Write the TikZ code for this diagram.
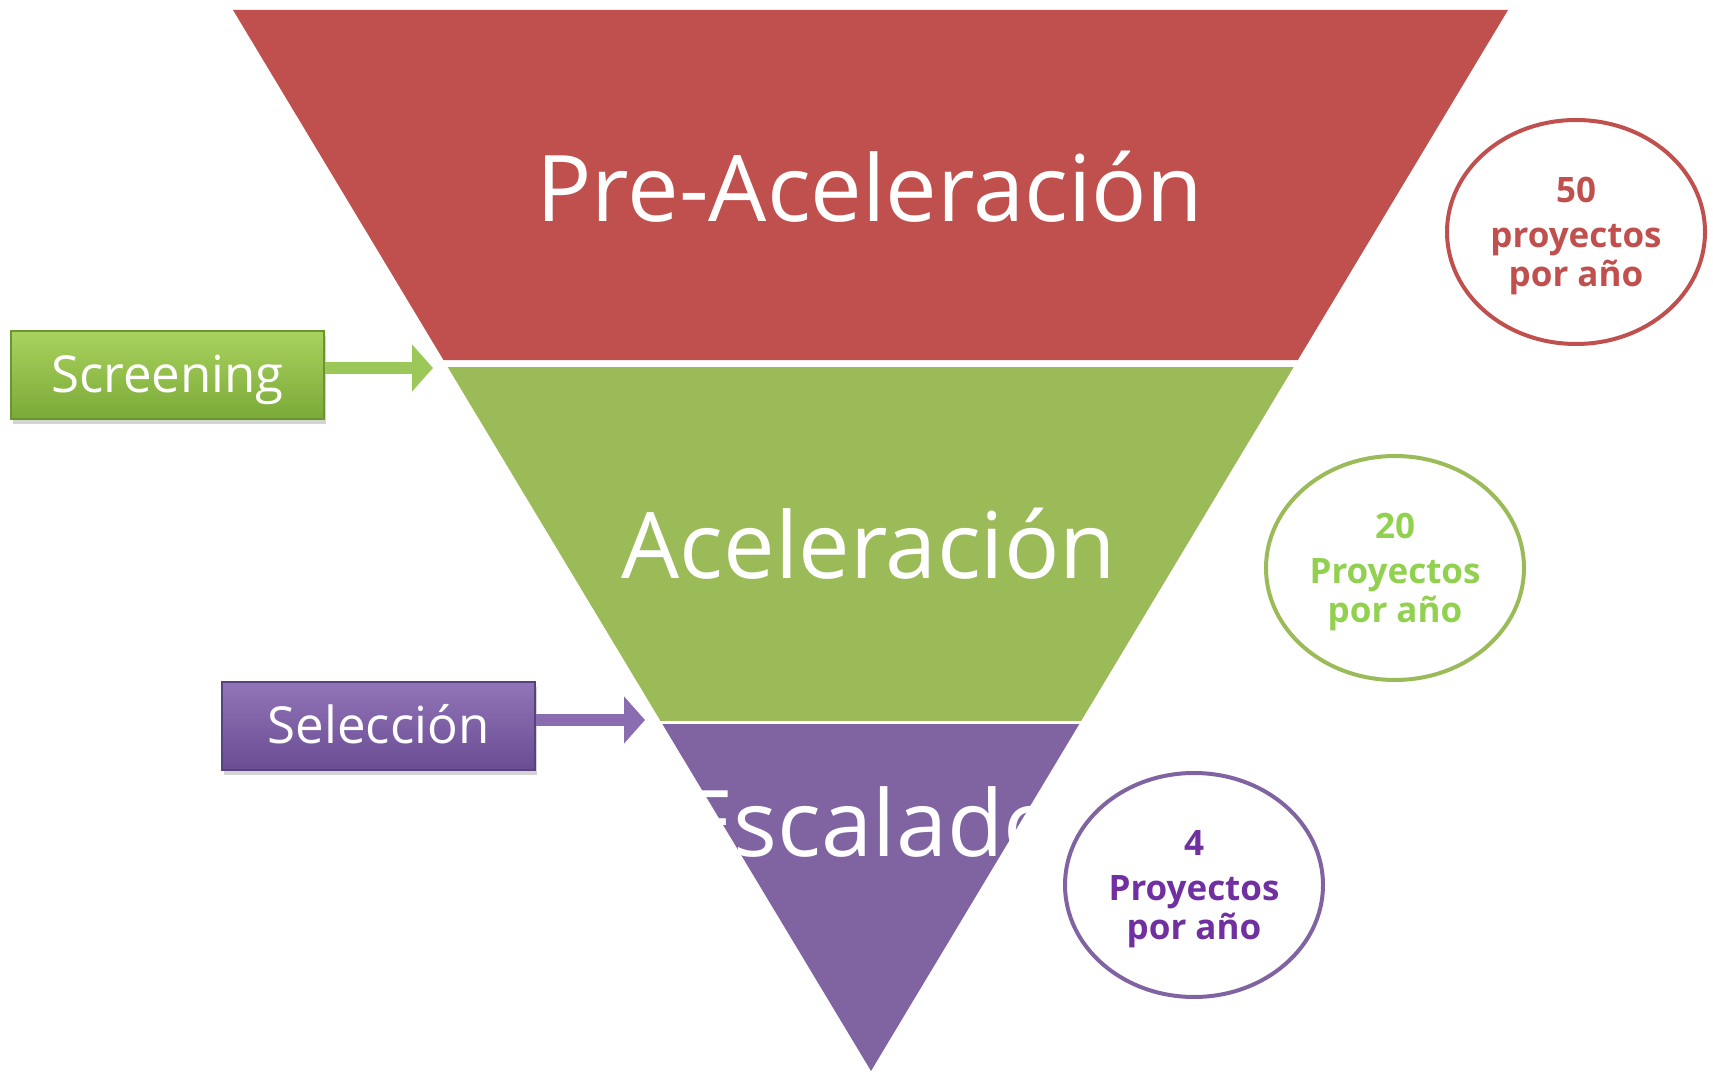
\documentclass[tikz,border=0pt]{standalone}
\usepackage{fontspec}
\setmainfont{Open Sans}
\usetikzlibrary{calc,shapes.geometric,shadows,arrows.meta}
\definecolor{redband}{HTML}{C0504D}
\definecolor{greenband}{HTML}{9BBB59}
\definecolor{purpleband}{HTML}{8064A2}
\definecolor{greentext}{HTML}{92D050}
\definecolor{purpletext}{HTML}{7030A0}
\definecolor{greentop}{HTML}{A9D25E}
\definecolor{greenbottom}{HTML}{7BAA38}
\definecolor{greenrim}{HTML}{6A9632}
\definecolor{greenshaft}{HTML}{9CC85A}
\definecolor{purpletop}{HTML}{9274B8}
\definecolor{purplebottom}{HTML}{6A4C93}
\definecolor{purplerim}{HTML}{5A417F}
\definecolor{purpleshaft}{HTML}{8A6CB0}
\begin{document}
\begin{tikzpicture}[x=1pt,y=1pt,
  band/.style={text=white,font=\fontsize{92}{110}\selectfont,anchor=base},
  tagbox/.style={minimum width=313,minimum height=88,line width=1.5,text=white,
    font=\fontsize{51}{60}\selectfont,text height=36pt,text depth=0pt,
    drop shadow={shadow xshift=2pt,shadow yshift=-5pt,opacity=0.35}},
  tagarrow/.style={line width=12,-{Triangle[length=21pt,width=46pt]}},
  count/.style={ellipse,line width=4,minimum width=258,minimum height=224,align=center,
    text depth=0pt,font=\fontsize{35}{39}\selectfont\bfseries}]
\useasboundingbox (0,0) rectangle (1713,1071);
\coordinate (tl) at (233,1061);
\coordinate (tr) at (1508,1061);
\coordinate (ap) at (871,0);
\fill[redband] (tl) -- (tr) -- ($(tr)!0.330!(ap)$) -- ($(tl)!0.330!(ap)$) -- cycle;
\fill[greenband] ($(tl)!0.3365!(ap)$) -- ($(tr)!0.3365!(ap)$) -- ($(tr)!0.6701!(ap)$) -- ($(tl)!0.6701!(ap)$) -- cycle;
\fill[purpleband] ($(tl)!0.673!(ap)$) -- ($(tr)!0.673!(ap)$) -- (ap) -- cycle;
\node[band] (pre) at (870,849) {Pre-Aceleración};
\node[band] (acel) at (869,492) {Aceleración};
\node[band] (esc) at (871,214) {Escalado};
\node[tagbox,draw=greenrim,top color=greentop,bottom color=greenbottom] (scr) at (167.5,696) {Screening};
\node[tagbox,draw=purplerim,top color=purpletop,bottom color=purplebottom] (sel) at (378.5,345) {Selección};
\coordinate (scrtip) at (433,703);
\coordinate (seltip) at (645,351);
\draw[tagarrow,greenshaft] ($(scr.east)+(0,7)$) -- (scrtip);
\draw[tagarrow,purpleshaft] ($(sel.east)+(0,6)$) -- (seltip);
\node[count,draw=redband,text=redband] (n50) at (1576,839) {50\\[6pt]proyectos\\por año};
\node[count,draw=greenband,text=greentext] (n20) at (1395,503) {20\\[6pt]Proyectos\\por año};
\node[count,draw=purpleband,text=purpletext] (n4) at (1194,186) {4\\[6pt]Proyectos\\por año};
\end{tikzpicture}
\end{document}
